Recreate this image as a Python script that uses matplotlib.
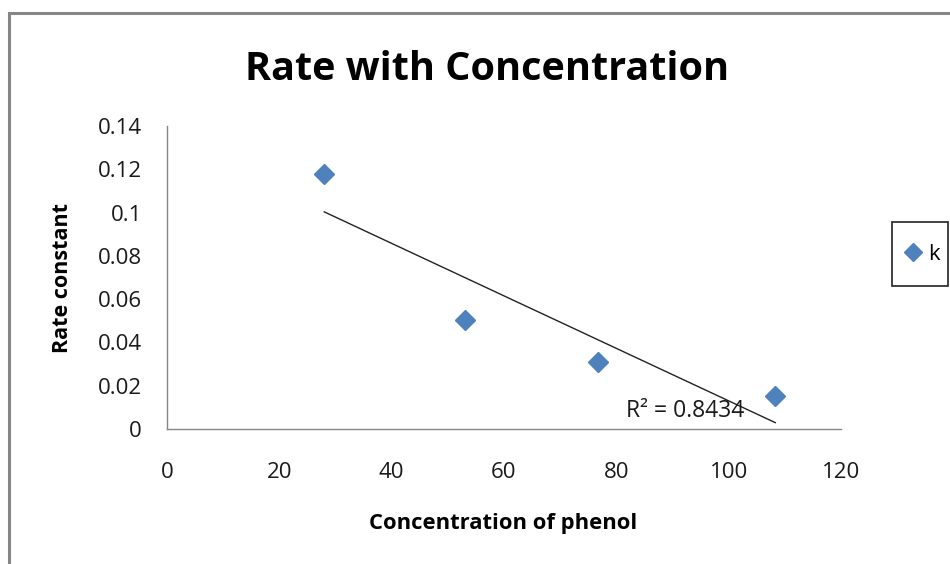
import numpy as np
import matplotlib
matplotlib.use("Agg")
import matplotlib.pyplot as plt
from matplotlib.patches import Rectangle
from matplotlib.lines import Line2D

# Phenol concentration vs. measured rate constant
concentration = [28.0, 53.0, 76.8, 108.3]
rate_constant = [0.1178, 0.0504, 0.0310, 0.0152]
series_name = "k"
r_squared_label = "R² = 0.8434"

x_ticks = [0, 20, 40, 60, 80, 100, 120]
y_ticks = [0, 0.02, 0.04, 0.06, 0.08, 0.1, 0.12, 0.14]
y_tick_labels = ["0", "0.02", "0.04", "0.06", "0.08", "0.1", "0.12", "0.14"]

FONT = "Open Sans"
BLUE = "#4F81BD"
GRAY = "#868686"
TEXT = "#1a1a1a"

W, H = 950, 564
fig = plt.figure(figsize=(W / 100, H / 100), dpi=100)
fig.patch.set_facecolor("white")

# outer chart frame (runs off the right and bottom edges)
fig.add_artist(Rectangle((9 / W, -0.05), 1.2, 1 - 13 / H + 0.05,
                         transform=fig.transFigure, fill=False,
                         edgecolor=GRAY, linewidth=2.2, clip_on=False))

ax = fig.add_axes([167 / W, 1 - 429 / H, (841 - 167) / W, (429 - 126) / H])
ax.set_xlim(0, 120)
ax.set_ylim(0, 0.14)

for side in ("top", "right"):
    ax.spines[side].set_visible(False)
for side in ("left", "bottom"):
    ax.spines[side].set_color(GRAY)
    ax.spines[side].set_linewidth(1.0)

ax.set_xticks(x_ticks)
ax.set_xticklabels([str(v) for v in x_ticks])
ax.set_yticks(y_ticks)
ax.set_yticklabels(y_tick_labels)
ax.tick_params(axis="both", length=0, labelsize=16, colors=TEXT)
ax.tick_params(axis="x", pad=24)
ax.tick_params(axis="y", pad=18)
for lbl in ax.get_xticklabels() + ax.get_yticklabels():
    lbl.set_fontfamily(FONT)

# data points
ax.plot(concentration, rate_constant, linestyle="none", marker="D",
        markersize=10, color=BLUE, markeredgecolor=BLUE, zorder=3)

# linear trendline across the data range
slope, intercept = np.polyfit(concentration, rate_constant, 1)
xs = np.array([min(concentration), max(concentration)])
ax.plot(xs, slope * xs + intercept, color="#222222", linewidth=1.0, zorder=2)

ax.text(81.8, 0.0082, r_squared_label, fontsize=16.5, family=FONT,
        color=TEXT, ha="left", va="center")

fig.text(487 / W, 1 - 69 / H, "Rate with Concentration", fontsize=28.5,
         fontweight="bold", family=FONT, ha="center", va="center")
fig.text(503 / W, 1 - 524 / H, "Concentration of phenol", fontsize=15.8,
         fontweight="bold", family=FONT, ha="center", va="center")
fig.text(62 / W, 1 - 278 / H, "Rate constant", fontsize=15.5,
         fontweight="bold", family=FONT, ha="center", va="center",
         rotation=90)

# legend
fig.add_artist(Rectangle((892 / W, 1 - 286 / H), 56 / W, 64 / H,
                         transform=fig.transFigure, fill=False,
                         edgecolor="#222222", linewidth=1.2))
handle = Line2D([], [], linestyle="none", marker="D", markersize=9,
                color=BLUE)
leg = fig.legend([handle], [series_name], loc="center",
                 bbox_to_anchor=(922 / W, 1 - 254 / H), frameon=False,
                 handlelength=0.8, handletextpad=0.3,
                 prop={"family": FONT, "size": 16})

fig.savefig("out.png", dpi=100)
